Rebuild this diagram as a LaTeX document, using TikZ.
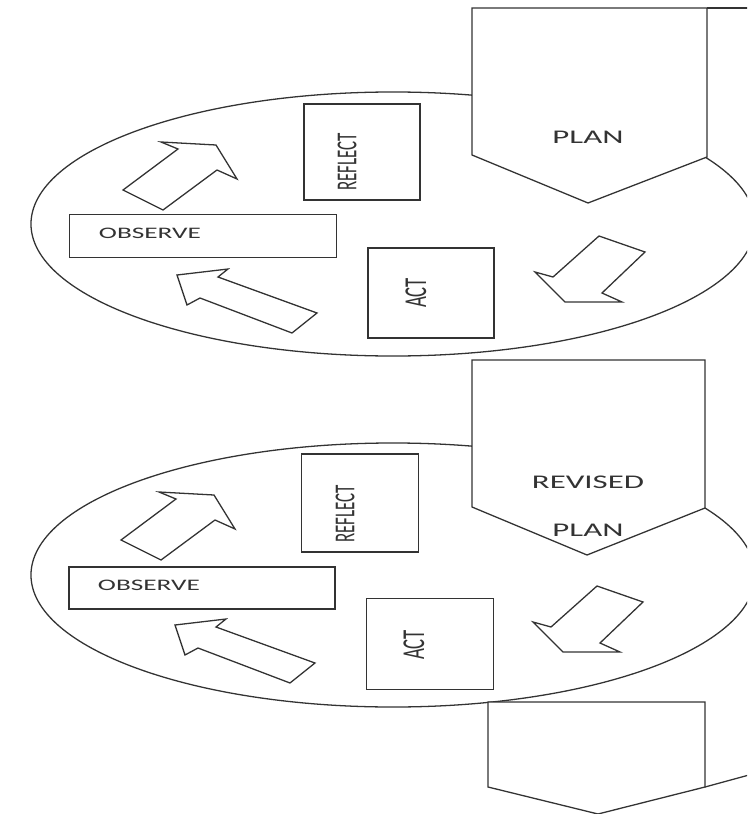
\documentclass[tikz,border=0pt]{standalone}
\usepackage{fontspec}
\setmainfont{Carlito}
\usetikzlibrary{shapes.geometric}
\tikzset{
    txt/.style = {align=center, inner sep=0pt, text=black!80, xscale=1.7},
    vtxt/.style = {inner sep=0pt, text=black!80, xscale=1.7, rotate=90},
    stage/.style = {rectangle, draw=black!80, fill=white, line width=1.1pt, inner sep=0pt},
    cyc/.style = {ellipse, draw=black!80, line width=1.1pt, inner sep=0pt,
                  minimum width=21.72cm, minimum height=7.92cm},
    plan/.style = {draw=black!80, fill=white, line width=1.1pt, line join=miter},
    blk_arrow/.style = {draw=black!80, fill=white, line width=1.1pt, line join=miter}
}

\begin{document}
\begin{tikzpicture}[x=0.03cm, y=-0.03cm]
    \useasboundingbox (0,0) rectangle (747,814);
    \clip (0,0) rectangle (747,814);

    % first cycle
    \node [cyc] (cycA) at (393,224) {};
    \draw [plan] (472,8) -- (707,8) -- (707,157) -- (588,203) -- (472,155) -- cycle;
    \draw [plan] (707,8) -- (760,8);
    \node [txt, font=\fontsize{16.5}{19}\selectfont] (planA) at (588,137) {PLAN};

    \node [stage, minimum width=3.48cm, minimum height=2.88cm] (reflA) at (362,152) {};
    \node [vtxt, font=\fontsize{14.5}{17}\selectfont] (reflAtxt) at (347,162) {REFLECT};
    \node [stage, minimum width=8.01cm, minimum height=1.29cm] (obsA) at (203,236) {};
    \node [txt, font=\fontsize{13.7}{16}\selectfont] (obsAtxt) at (150,233) {OBSERVE};
    \node [stage, minimum width=3.78cm, minimum height=2.7cm] (actA) at (431,293) {};
    \node [vtxt, font=\fontsize{16}{18}\selectfont] (actAtxt) at (416,293) {ACT};

    \draw [blk_arrow] (216,145) -- (161,142) -- (178,149) -- (123,190) -- (163,210)
        -- (217,170) -- (237,179) -- cycle;
    \draw [blk_arrow] (177,275) -- (228,269) -- (218,277) -- (317,313) -- (292,333)
        -- (200,298) -- (187,305) -- cycle;
    \draw [blk_arrow] (599,236) -- (645,252) -- (602,293) -- (622,302) -- (565,302)
        -- (535,272) -- (553,277) -- cycle;

    % second cycle
    \node [cyc] (cycB) at (393,575) {};
    \draw [plan] (472,360) -- (705,360) -- (705,508) -- (587,555) -- (472,507) -- cycle;
    \node [txt, font=\fontsize{16.5}{19}\selectfont] (planB) at (588,506) {REVISED\\[22pt]PLAN};

    \node [stage, minimum width=3.51cm, minimum height=2.94cm] (reflB) at (360,503) {};
    \node [vtxt, font=\fontsize{14.5}{17}\selectfont] (reflBtxt) at (345,514) {REFLECT};
    \node [stage, minimum width=7.98cm, minimum height=1.26cm] (obsB) at (202,588) {};
    \node [txt, font=\fontsize{13.7}{16}\selectfont] (obsBtxt) at (149,585) {OBSERVE};
    \node [stage, minimum width=3.81cm, minimum height=2.73cm] (actB) at (430,644) {};
    \node [vtxt, font=\fontsize{16}{18}\selectfont] (actBtxt) at (414,645) {ACT};

    \begin{scope}[shift={(-2,350)}]
        \draw [blk_arrow] (216,145) -- (161,142) -- (178,149) -- (123,190) -- (163,210)
            -- (217,170) -- (237,179) -- cycle;
        \draw [blk_arrow] (177,275) -- (228,269) -- (218,277) -- (317,313) -- (292,333)
            -- (200,298) -- (187,305) -- cycle;
        \draw [blk_arrow] (599,236) -- (645,252) -- (602,293) -- (622,302) -- (565,302)
            -- (535,272) -- (553,277) -- cycle;
    \end{scope}

    % next plan
    \draw [plan] (488,702) -- (705,702) -- (705,787) -- (598,814) -- (488,787) -- cycle;
    \draw [plan] (705,787) -- (760,772);
\end{tikzpicture}
\end{document}
